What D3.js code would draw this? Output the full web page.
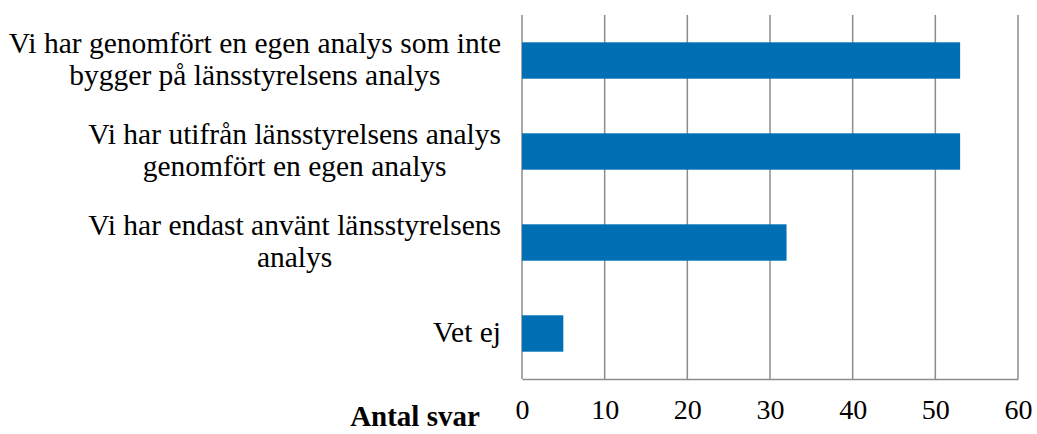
<!DOCTYPE html>
<html>
<head>
<meta charset="utf-8">
<script src="https://cdn.jsdelivr.net/npm/d3@7"></script>
<style>
  body { margin: 0; background: #fff; }
  text { font-family: "Liberation Serif", "DejaVu Serif", serif; }
</style>
</head>
<body>
<div id="chart"></div>
<script>
const categories = [
  ['Vi har genomfört en egen analys som inte', 'bygger på länsstyrelsens analys'],
  ['Vi har utifrån länsstyrelsens analys', 'genomfört en egen analys'],
  ['Vi har endast använt länsstyrelsens', 'analys'],
  ['Vet ej']
];
const values = [53, 53, 32, 5];
const xTicks = [0, 10, 20, 30, 40, 50, 60];
const axisTitle = 'Antal svar';

const width = 1037;
const height = 434;
const margin = { top: 15, right: 19, bottom: 55, left: 522 };

const svg = d3.select('#chart')
  .append('svg')
  .attr('width', width)
  .attr('height', height);

const x = d3.scaleLinear()
  .domain([0, 60])
  .range([margin.left, width - margin.right]);

const y = d3.scaleBand()
  .domain(d3.range(categories.length))
  .range([margin.top, height - margin.bottom])
  .paddingInner(0.6)
  .paddingOuter(0.3);

// vertical grid lines
svg.append('g')
  .selectAll('line')
  .data(xTicks)
  .join('line')
    .attr('x1', d => x(d))
    .attr('x2', d => x(d))
    .attr('y1', margin.top)
    .attr('y2', height - margin.bottom)
    .attr('stroke', '#8c8c8c')
    .attr('stroke-width', 1.5);

// bars
svg.append('g')
  .attr('fill', '#006fb4')
  .selectAll('rect')
  .data(values)
  .join('rect')
    .attr('x', x(0))
    .attr('y', (d, i) => y(i))
    .attr('width', d => x(d) - x(0))
    .attr('height', y.bandwidth());

// x axis
function xAxis(g) {
  g.attr('transform', `translate(0,${height - margin.bottom})`)
    .call(d3.axisBottom(x).tickValues(xTicks).tickSize(0).tickPadding(20))
    .call(g => g.select('.domain').attr('stroke', '#8c8c8c').attr('stroke-width', 1.5))
    .selectAll('text')
      .attr('font-family', '"Liberation Serif", serif')
      .attr('font-size', '28px')
      .attr('fill', '#000');
}
svg.append('g').call(xAxis);

// category labels, lines centred, block right-aligned
const labelRight = 501;
const lineHeight = 32;
const labels = svg.append('g')
  .attr('font-size', '29.5px')
  .attr('fill', '#000')
  .selectAll('text')
  .data(categories)
  .join('text')
    .attr('text-anchor', 'middle');

labels.each(function(lines, i) {
  const t = d3.select(this);
  const cy = y(i) + y.bandwidth() / 2;
  lines.forEach((line, j) => {
    t.append('tspan')
      .attr('y', cy + (j - (lines.length - 1) / 2) * lineHeight + 8)
      .text(line);
  });
  let maxW = 0;
  t.selectAll('tspan').each(function() {
    maxW = Math.max(maxW, this.getComputedTextLength());
  });
  t.selectAll('tspan').attr('x', labelRight - maxW / 2);
});

svg.append('text')
  .attr('x', 415)
  .attr('y', 426)
  .attr('text-anchor', 'middle')
  .attr('font-size', '29px')
  .attr('font-weight', 'bold')
  .text(axisTitle);
</script>
</body>
</html>
